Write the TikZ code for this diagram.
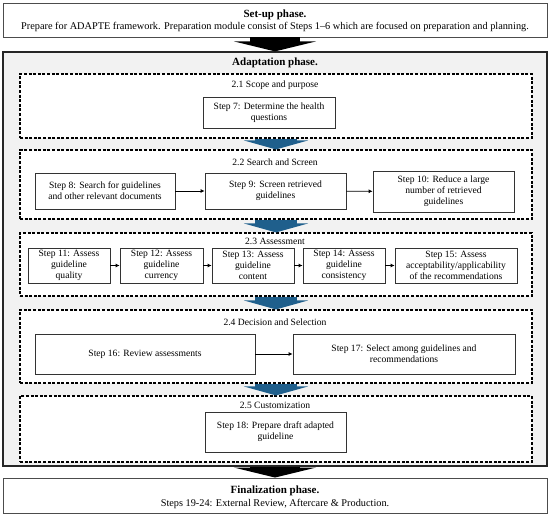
\documentclass[tikz,border=0pt]{standalone}
\usepackage{fontspec}
\setmainfont{Liberation Serif}
\usetikzlibrary{arrows.meta}
\definecolor{stepBlue}{RGB}{31,95,140}
\definecolor{panelGray}{RGB}{242,242,242}
\begin{document}
\begin{tikzpicture}[x=1pt, y=-1pt,
    phaseStyle/.style={draw=black!70, line width=0.9pt, fill=white, inner sep=0pt},
    panelStyle/.style={draw=black!85, line width=1.2pt, fill=panelGray, inner sep=0pt},
    moduleStyle/.style={draw, line width=1.1pt, dash pattern=on 3pt off 1.6pt, fill=white, inner sep=0pt},
    stepStyle/.style={draw=black!80, line width=0.7pt, fill=white, align=center, inner sep=0pt, font=\fontsize{9.6}{10.8}\selectfont},
    headStyle/.style={font=\bfseries\fontsize{11}{12}\selectfont, inner sep=0pt},
    textStyle/.style={font=\fontsize{10.3}{11}\selectfont, inner sep=0pt},
    titleStyle/.style={font=\fontsize{9.6}{10}\selectfont, inner sep=0pt},
    linkStyle/.style={-{Latex[length=4pt,width=4pt]}, line width=0.8pt},
    bigArrow/.style={line width=50pt, -{Triangle[length=10pt 0 0, width=82pt 0 0]}},
    blueArrow/.style={stepBlue, line width=42pt, -{Triangle[length=9pt 0 0, width=64pt 0 0]}}]

\useasboundingbox (0,0) rectangle (550,516);

% phases
\node[phaseStyle, minimum width=544pt, minimum height=34pt](setup) at (275, 20) {};
\node[headStyle](setupHead) at (275, 15) {Set-up phase.};
\node[textStyle](setupText) at (275, 27) {Prepare for ADAPTE framework. Preparation module consist of Steps 1–6 which are focused on preparation and planning.};

\node[panelStyle, minimum width=544pt, minimum height=414pt](adapt) at (275, 259) {};
\node[headStyle](adaptHead) at (275, 63) {Adaptation phase.};

\node[phaseStyle, minimum width=544pt, minimum height=35pt](final) at (275, 495.5) {};
\node[headStyle](finalHead) at (275, 491) {Finalization phase.};
\node[textStyle](finalText) at (275, 504) {Steps 19-24: External Review, Aftercare \& Production.};

% modules
\node[moduleStyle, minimum width=512pt, minimum height=64pt](m21) at (276, 106) {};
\node[moduleStyle, minimum width=512pt, minimum height=69pt](m22) at (276, 184.5) {};
\node[moduleStyle, minimum width=512pt, minimum height=63pt](m23) at (276, 264.5) {};
\node[moduleStyle, minimum width=512pt, minimum height=73pt](m24) at (276, 346.5) {};
\node[moduleStyle, minimum width=512pt, minimum height=66pt](m25) at (276, 429) {};

\node[titleStyle](t21) at (275, 85) {2.1 Scope and purpose};
\node[titleStyle](t22) at (275, 162) {2.2 Search and Screen};
\node[titleStyle](t23) at (275, 241.5) {2.3 Assessment};
\node[titleStyle](t24) at (275, 322) {2.4 Decision and Selection};
\node[titleStyle](t25) at (275, 405) {2.5 Customization};

\draw[bigArrow] (setup.south) -- (adapt.north);
\draw[bigArrow] (adapt.south) -- (final.north);
\draw[blueArrow] (m21.south) -- (m22.north);
\draw[blueArrow] (m22.south) -- (m23.north);
\draw[blueArrow] (m23.south) -- (m24.north);
\draw[blueArrow] (m24.south) -- (m25.north);

% steps
\node[stepStyle, minimum width=132pt, minimum height=31pt](s7) at (269, 112.5) {Step 7: Determine the health\\questions};

\node[stepStyle, minimum width=140pt, minimum height=36pt](s8) at (105, 191) {Step 8: Search for guidelines\\and other relevant documents};
\node[stepStyle, minimum width=141pt, minimum height=36pt](s9) at (275.5, 191) {Step 9: Screen retrieved\\guidelines};
\node[stepStyle, minimum width=141pt, minimum height=41pt](s10) at (443.5, 191.5) {Step 10: Reduce a large\\number of retrieved\\guidelines};

\node[stepStyle, minimum width=82pt, minimum height=35pt](s11) at (69, 265.5) {Step 11: Assess\\guideline\\quality};
\node[stepStyle, minimum width=83pt, minimum height=35pt](s12) at (161.5, 265.5) {Step 12: Assess\\guideline\\currency};
\node[stepStyle, minimum width=82pt, minimum height=35pt](s13) at (253, 265.5) {Step 13: Assess\\guideline\\content};
\node[stepStyle, minimum width=82pt, minimum height=35pt](s14) at (344, 265.5) {Step 14: Assess\\guideline\\consistency};
\node[stepStyle, minimum width=122pt, minimum height=35pt](s15) at (456, 265.5) {Step 15: Assess\\acceptability/applicability\\of the recommendations};

\node[stepStyle, minimum width=220pt, minimum height=40pt](s16) at (145, 354) {Step 16: Review assessments};
\node[stepStyle, minimum width=222pt, minimum height=40pt](s17) at (404, 354) {Step 17: Select among guidelines and\\recommendations};

\node[stepStyle, minimum width=141pt, minimum height=40pt](s18) at (275.5, 432) {Step 18: Prepare draft adapted\\guideline};

\draw[linkStyle] (s8) -- (s9);
\draw[linkStyle] (s9) -- (s10);
\draw[linkStyle] (s11) -- (s12);
\draw[linkStyle] (s12) -- (s13);
\draw[linkStyle] (s13) -- (s14);
\draw[linkStyle] (s14) -- (s15);
\draw[linkStyle] (s16) -- (s17);
\end{tikzpicture}
\end{document}
